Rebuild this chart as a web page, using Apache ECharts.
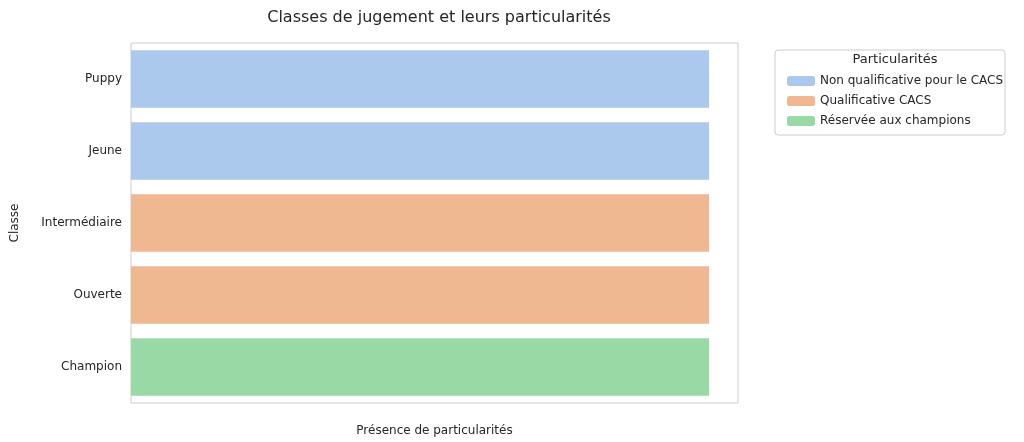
<!DOCTYPE html>
<html><head><meta charset="utf-8">
<script src="https://cdn.jsdelivr.net/npm/echarts@6/dist/echarts.min.js"></script>
<style>html,body{margin:0;padding:0;background:#fff}#c{width:1024px;height:442px}</style>
</head><body><div id="c"></div>
<script>
const categories = ['Puppy','Jeune','Intermédiaire','Ouverte','Champion'];
const seriesNames = ['Non qualificative pour le CACS','Qualificative CACS','Réservée aux champions'];
const nonQualif = [1,1,'-','-','-'];
const qualif = ['-','-',1,1,'-'];
const reservee = ['-','-','-','-',1];
const colors = ['#abc9ec','#f0b890','#98d9a6'];
const font = 'DejaVu Sans';
const chart = echarts.init(document.getElementById('c'));
const mk = (name, data, i) => ({name, type:'bar', stack:'s', data, barCategoryGap:'20%', itemStyle:{color:colors[i]}});
chart.setOption({
  animation:false,
  textStyle:{fontFamily:font},
  title:{text:'Classes de jugement et leurs particularités', left:434, top:5, textAlign:'center',
    textStyle:{fontFamily:font, fontSize:16, fontWeight:'normal', color:'#262626'}},
  grid:{left:131, top:43, width:607, height:362, show:true, borderColor:'#cccccc', borderWidth:1},
  xAxis:{type:'value', min:0, max:1.05, axisLabel:{show:false}, splitLine:{show:false}, axisTick:{show:false},
    axisLine:{show:false}, name:'Présence de particularités', nameLocation:'middle', nameGap:22,
    nameTextStyle:{fontFamily:font, fontSize:12, color:'#262626'}},
  yAxis:{type:'category', data:categories, inverse:true, axisLine:{show:false}, axisTick:{show:false},
    axisLabel:{fontFamily:font, fontSize:12, color:'#262626', margin:9},
    name:'Classe', nameLocation:'middle', nameGap:110, nameRotate:90,
    nameTextStyle:{fontFamily:font, fontSize:12, color:'#262626'}},
  legend:{orient:'vertical', left:782, top:70, itemWidth:28, itemHeight:10, itemGap:8,
    data:seriesNames, textStyle:{fontFamily:font, fontSize:12, color:'#262626'}},
  graphic:[
    {type:'rect', shape:{x:775, y:50, width:230, height:85, r:3}, style:{fill:'none', stroke:'#cccccc', lineWidth:1}},
    {type:'text', x:895, y:53, style:{text:'Particularités', font:'13px "DejaVu Sans"', fill:'#262626', textAlign:'center'}}
  ],
  series:[mk(seriesNames[0],nonQualif,0), mk(seriesNames[1],qualif,1), mk(seriesNames[2],reservee,2)]
});
</script></body></html>
